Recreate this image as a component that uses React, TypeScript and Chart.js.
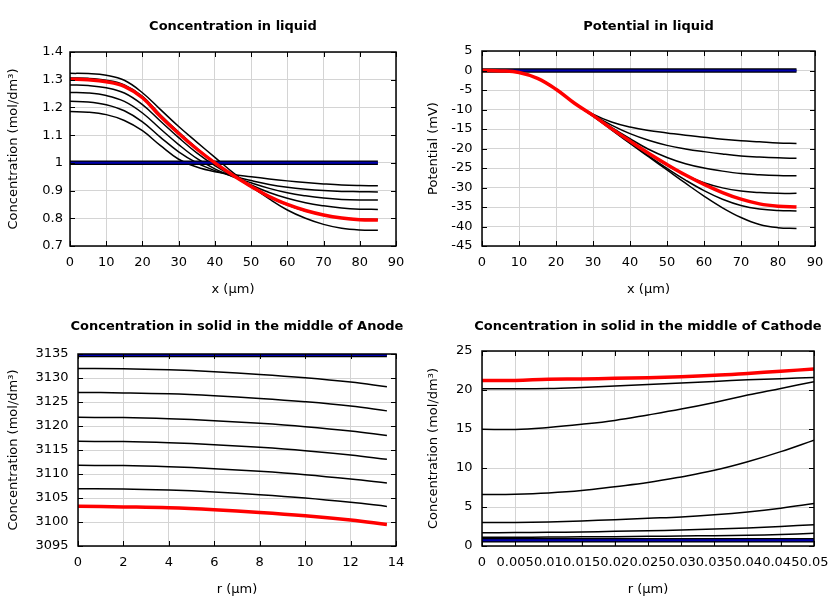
import React, { useEffect, useRef } from 'react';
import { Chart, registerables } from 'chart.js';

Chart.register(...registerables);

const FONT = '"DejaVu Sans", "Liberation Sans", sans-serif';

// ---------- Panel 1 & 2: liquid profiles (x in µm) ----------
const xLiquid = [0, 5, 10, 15, 20, 25, 30, 35, 40, 45, 50, 55, 60, 65, 70, 75, 80, 85];
const xLiquidInit = [0, 85];

const concLiqInit = [1, 1];
const concLiqA = [1.185, 1.183, 1.174, 1.153, 1.116, 1.062, 1.013, 0.985, 0.968, 0.958, 0.95, 0.942, 0.935, 0.929, 0.924, 0.92, 0.918, 0.917];
const concLiqB = [1.222, 1.22, 1.21, 1.188, 1.148, 1.092, 1.04, 1.0, 0.972, 0.952, 0.936, 0.922, 0.912, 0.905, 0.9, 0.897, 0.896, 0.895];
const concLiqC = [1.254, 1.252, 1.243, 1.222, 1.18, 1.122, 1.066, 1.016, 0.978, 0.95, 0.928, 0.908, 0.892, 0.881, 0.873, 0.868, 0.866, 0.866];
const concLiqD = [1.281, 1.279, 1.271, 1.252, 1.21, 1.15, 1.091, 1.036, 0.99, 0.952, 0.92, 0.893, 0.872, 0.856, 0.845, 0.837, 0.833, 0.832];
const concLiqE = [1.306, 1.305, 1.298, 1.281, 1.24, 1.173, 1.111, 1.053, 1.0, 0.955, 0.913, 0.876, 0.848, 0.826, 0.811, 0.801, 0.797, 0.796];
const concLiqF = [1.323, 1.322, 1.316, 1.298, 1.253, 1.192, 1.131, 1.075, 1.02, 0.965, 0.915, 0.87, 0.83, 0.8, 0.778, 0.764, 0.758, 0.757];
const concLiqLast = [1.302, 1.3, 1.293, 1.276, 1.235, 1.167, 1.106, 1.05, 1.0, 0.955, 0.915, 0.878, 0.85, 0.828, 0.812, 0.801, 0.795, 0.794];

const potLiqInit = [0, 0];
const potLiqA = [0, -0.1, -0.5, -2.0, -4.8, -8.4, -11.2, -13.2, -14.5, -15.4, -16.0, -16.6, -17.1, -17.6, -18.0, -18.3, -18.6, -18.7];
const potLiqB = [0, -0.1, -0.5, -2.0, -4.8, -8.4, -11.4, -14.0, -16.2, -17.9, -19.2, -20.1, -20.8, -21.4, -21.9, -22.2, -22.4, -22.5];
const potLiqC = [0, -0.1, -0.5, -2.0, -4.8, -8.4, -11.5, -14.6, -17.5, -20.2, -22.3, -23.9, -25.0, -25.8, -26.4, -26.7, -26.9, -27.0];
const potLiqD = [0, -0.1, -0.5, -2.0, -4.8, -8.4, -11.6, -15.0, -18.2, -21.4, -24.3, -26.8, -28.8, -30.1, -30.9, -31.3, -31.5, -31.5];
const potLiqE = [0, -0.1, -0.5, -2.0, -4.8, -8.4, -11.7, -15.1, -18.5, -21.9, -25.1, -28.1, -30.8, -33.0, -34.6, -35.5, -35.9, -36.0];
const potLiqF = [0, -0.1, -0.5, -2.0, -4.8, -8.4, -11.7, -15.2, -18.7, -22.1, -25.5, -28.9, -32.2, -35.2, -37.7, -39.5, -40.3, -40.5];
const potLiqLast = [0, -0.1, -0.5, -2.0, -4.8, -8.4, -11.5, -14.9, -18.1, -21.2, -24.1, -26.8, -29.2, -31.3, -33.0, -34.2, -34.8, -35.0];

// ---------- Panel 3: anode particle (r in µm) ----------
const rAnode = [0, 2, 4, 6, 8, 10, 12, 13.6];
const rAnodeInit = [0, 13.6];
const anodeInit = [3134.8, 3134.8];
const anode1 = [3132.0, 3131.95, 3131.7, 3131.3, 3130.75, 3130.05, 3129.15, 3128.2];
const anode2 = [3127.0, 3126.9, 3126.7, 3126.3, 3125.75, 3125.05, 3124.15, 3123.15];
const anode3 = [3121.8, 3121.75, 3121.5, 3121.1, 3120.55, 3119.85, 3118.95, 3118.0];
const anode4 = [3116.8, 3116.75, 3116.5, 3116.1, 3115.55, 3114.85, 3113.95, 3113.05];
const anode5 = [3111.8, 3111.75, 3111.5, 3111.1, 3110.55, 3109.85, 3108.95, 3108.1];
const anode6 = [3106.95, 3106.9, 3106.65, 3106.25, 3105.7, 3105.0, 3104.1, 3103.25];
const anodeLast = [3103.3, 3103.15, 3102.95, 3102.55, 3102.0, 3101.3, 3100.4, 3099.5];

// ---------- Panel 4: cathode particle (r in µm) ----------
const rCathode = [0, 0.005, 0.01, 0.015, 0.02, 0.025, 0.03, 0.035, 0.04, 0.045, 0.05];
const rCathodeInit = [0, 0.05];
const cathodeInit = [0.74, 0.74];
const cathode1 = [1.11, 1.12, 1.14, 1.17, 1.2, 1.24, 1.28, 1.32, 1.37, 1.48, 1.63];
const cathode2 = [1.71, 1.72, 1.75, 1.8, 1.88, 1.95, 2.05, 2.17, 2.31, 2.5, 2.74];
const cathode3 = [3.0, 3.02, 3.08, 3.2, 3.38, 3.55, 3.72, 4.0, 4.37, 4.85, 5.44];
const cathode4 = [6.59, 6.64, 6.8, 7.1, 7.6, 8.13, 8.86, 9.7, 10.8, 12.1, 13.57];
const cathode5 = [14.98, 14.94, 15.2, 15.6, 16.1, 16.8, 17.55, 18.4, 19.35, 20.2, 21.06];
const cathode6 = [20.16, 20.16, 20.2, 20.33, 20.5, 20.7, 20.9, 21.1, 21.3, 21.45, 21.6];
const cathodeLast = [21.23, 21.23, 21.38, 21.42, 21.5, 21.58, 21.7, 21.88, 22.13, 22.4, 22.7];

// ---------- helpers ----------
const pts = (xs: number[], ys: number[]) => xs.map((x, i) => ({ x, y: ys[i] }));

const lineBase = { pointRadius: 0, fill: false, tension: 0.4 };
const blackLine = (xs: number[], ys: number[]) => ({ ...lineBase, data: pts(xs, ys), borderColor: '#000000', borderWidth: 1.5 });
const redLine = (xs: number[], ys: number[]) => ({ ...lineBase, data: pts(xs, ys), borderColor: '#ff0000', borderWidth: 3.5 });
const blueLines = (xs: number[], ys: number[]) => [
  { ...lineBase, data: pts(xs, ys), borderColor: '#0000b0', borderWidth: 2 },
  { ...lineBase, data: pts(xs, ys), borderColor: '#000000', borderWidth: 4.5 },
];

const fmt = (v: any) => String(Number(Number(v).toFixed(4)));

const framePlugin = {
  id: 'frame',
  afterDraw(chart: any, _args: any, opts: any) {
    const { ctx, chartArea: a, scales } = chart;
    const xs = scales.x;
    const ys = scales.y;
    ctx.save();
    ctx.strokeStyle = '#000';
    ctx.lineWidth = 1;
    ctx.beginPath();
    xs.ticks.forEach((_t: any, i: number) => {
      const px = Math.round(xs.getPixelForTick(i)) + 0.5;
      ctx.moveTo(px, a.bottom);
      ctx.lineTo(px, a.bottom - 5);
      ctx.moveTo(px, a.top);
      ctx.lineTo(px, a.top + 5);
    });
    ys.ticks.forEach((_t: any, i: number) => {
      const py = Math.round(ys.getPixelForTick(i)) + 0.5;
      ctx.moveTo(a.left, py);
      ctx.lineTo(a.left + 5, py);
      ctx.moveTo(a.right, py);
      ctx.lineTo(a.right - 5, py);
    });
    ctx.stroke();
    ctx.lineWidth = 1.5;
    ctx.strokeRect(a.left, a.top, a.right - a.left, a.bottom - a.top);
    ctx.font = `bold 13px ${FONT}`;
    ctx.fillStyle = '#000';
    ctx.textAlign = 'center';
    ctx.textBaseline = 'alphabetic';
    ctx.fillText(opts.text, (a.left + a.right) / 2, opts.y);
    ctx.restore();
  },
};

type PanelSpec = {
  title: string;
  datasets: any[];
  xMin: number; xMax: number; xStep: number; xTitle: string;
  yMin: number; yMax: number; yStep: number; yTitle: string;
  axisW: number; padRight: number; padTop: number; yTickPad: number;
};

function makeConfig(p: PanelSpec): any {
  const tickFont = { family: FONT, size: 13 };
  return {
    type: 'line',
    data: { datasets: p.datasets },
    plugins: [framePlugin],
    options: {
      responsive: false,
      animation: false,
      layout: { padding: { left: 0, right: p.padRight, top: p.padTop, bottom: 0 } },
      plugins: {
        legend: { display: false },
        tooltip: { enabled: false },
        title: { display: false },
        frame: { text: p.title, y: 30 },
      },
      scales: {
        x: {
          type: 'linear',
          min: p.xMin, max: p.xMax,
          grid: { color: '#d4d4d4', lineWidth: 1, drawTicks: false },
          border: { display: false },
          ticks: {
            stepSize: p.xStep, autoSkip: false, maxRotation: 0, minRotation: 0,
            padding: 9, color: '#000', font: tickFont, callback: fmt,
          },
          title: { display: true, text: p.xTitle, color: '#000', font: tickFont, padding: { top: 0, bottom: 3 } },
          afterFit(s: any) { s.height = 54; },
        },
        y: {
          type: 'linear',
          min: p.yMin, max: p.yMax,
          grid: { color: '#d4d4d4', lineWidth: 1, drawTicks: false },
          border: { display: false },
          ticks: {
            stepSize: p.yStep, autoSkip: false,
            padding: p.yTickPad, color: '#000', font: tickFont, callback: fmt,
          },
          title: { display: true, text: p.yTitle, color: '#000', font: tickFont, padding: { top: 6.2, bottom: 0 } },
          afterFit(s: any) { s.width = p.axisW; },
        },
      },
    },
  };
}

const panels: { left: number; top: number; spec: PanelSpec }[] = [
  {
    left: 0, top: 0,
    spec: {
      title: 'Concentration in liquid',
      datasets: [
        redLine(xLiquid, concLiqLast),
        ...blueLines(xLiquidInit, concLiqInit),
        blackLine(xLiquid, concLiqA), blackLine(xLiquid, concLiqB), blackLine(xLiquid, concLiqC),
        blackLine(xLiquid, concLiqD), blackLine(xLiquid, concLiqE), blackLine(xLiquid, concLiqF),
      ],
      xMin: 0, xMax: 90, xStep: 10, xTitle: 'x (µm)',
      yMin: 0.7, yMax: 1.4, yStep: 0.1, yTitle: 'Concentration (mol/dm³)',
      axisW: 70, padRight: 24, padTop: 52, yTickPad: 7,
    },
  },
  {
    left: 420, top: 0,
    spec: {
      title: 'Potential in liquid',
      datasets: [
        redLine(xLiquid, potLiqLast),
        ...blueLines(xLiquidInit, potLiqInit),
        blackLine(xLiquid, potLiqA), blackLine(xLiquid, potLiqB), blackLine(xLiquid, potLiqC),
        blackLine(xLiquid, potLiqD), blackLine(xLiquid, potLiqE), blackLine(xLiquid, potLiqF),
      ],
      xMin: 0, xMax: 90, xStep: 10, xTitle: 'x (µm)',
      yMin: -45, yMax: 5, yStep: 5, yTitle: 'Potential (mV)',
      axisW: 62, padRight: 25, padTop: 51, yTickPad: 9.5,
    },
  },
  {
    left: 0, top: 300,
    spec: {
      title: 'Concentration in solid in the middle of Anode',
      datasets: [
        redLine(rAnode, anodeLast),
        ...blueLines(rAnodeInit, anodeInit),
        blackLine(rAnode, anode1), blackLine(rAnode, anode2), blackLine(rAnode, anode3),
        blackLine(rAnode, anode4), blackLine(rAnode, anode5), blackLine(rAnode, anode6),
      ],
      xMin: 0, xMax: 14, xStep: 2, xTitle: 'r (µm)',
      yMin: 3095, yMax: 3135, yStep: 5, yTitle: 'Concentration (mol/dm³)',
      axisW: 78, padRight: 24, padTop: 54, yTickPad: 9.5,
    },
  },
  {
    left: 420, top: 300,
    spec: {
      title: 'Concentration in solid in the middle of Cathode',
      datasets: [
        redLine(rCathode, cathodeLast),
        ...blueLines(rCathodeInit, cathodeInit),
        blackLine(rCathode, cathode1), blackLine(rCathode, cathode2), blackLine(rCathode, cathode3),
        blackLine(rCathode, cathode4), blackLine(rCathode, cathode5), blackLine(rCathode, cathode6),
      ],
      xMin: 0, xMax: 0.05, xStep: 0.005, xTitle: 'r (µm)',
      yMin: 0, yMax: 25, yStep: 5, yTitle: 'Concentration (mol/dm³)',
      axisW: 62, padRight: 26, padTop: 51, yTickPad: 9.5,
    },
  },
];

function Panel({ spec, left, top }: { spec: PanelSpec; left: number; top: number }) {
  const ref = useRef<HTMLCanvasElement | null>(null);
  useEffect(() => {
    if (!ref.current) return;
    const chart = new Chart(ref.current, makeConfig(spec));
    return () => chart.destroy();
  }, [spec]);
  return (
    <div style={{ position: 'absolute', left, top, width: 420, height: 300 }}>
      <canvas ref={ref} width={420} height={300} style={{ display: 'block' }} />
    </div>
  );
}

export default function App() {
  return (
    <div style={{ position: 'absolute', left: 0, top: 0, width: 840, height: 600, background: '#fff' }}>
      {panels.map((p, i) => (
        <Panel key={i} spec={p.spec} left={p.left} top={p.top} />
      ))}
    </div>
  );
}
